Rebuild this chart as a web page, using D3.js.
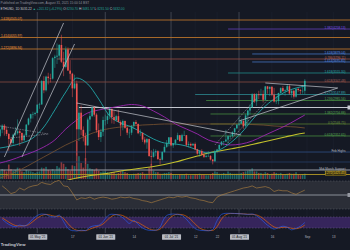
<!DOCTYPE html>
<html>
<head>
<meta charset="utf-8">
<script src="https://cdn.jsdelivr.net/npm/d3@7"></script>
<style>
  html, body { margin: 0; padding: 0; background: #151924; }
  svg { display: block; font-family: "Liberation Sans", Arial, sans-serif; }
</style>
</head>
<body>
<svg id="chart" width="350" height="250"></svg>
<script>
// ETHUSD daily, 14 Apr 2021 -> 31 Aug 2021
const firstDay = '2021-04-14';
const lastDay = '2021-08-31';

const open = [2300,2435,2516,2430,2345,2240,2160,2330,2360,2400,2365,2215,2315,2535,2660,2750,2755,
  2775,2945,2950,3430,3240,3520,3490,3480,3900,3930,3950,4170,3825,3720,4080,3645,3580,3280,3380,2440,2780,2430,2300,2110,2640,2710,2890,2740,2420,2280,2390,
  2630,2630,2710,2860,2690,2630,2710,2590,2520,2610,2470,2370,2370,2510,2590,2550,2360,2370,2230,2170,2240,1890,1875,1970,1990,1830,1815,1975,2080,2160,
  2275,2110,2150,2225,2320,2200,2320,2320,2120,2140,2110,2140,2030,1940,1995,1915,1875,1895,1895,1820,1785,1995,2025,2120,2185,2190,2230,2300,2300,2380,2460,
  2535,2555,2610,2505,2725,2825,2890,3160,3010,3160,3140,3165,3045,3320,3270,3310,3150,3010,3020,3185,3285,3225,3240,3325,3175,3230,3110,3270,3245,3225,3230];
const high = [2450,2545,2550,2500,2360,2280,2350,2490,2645,2435,2375,2350,2550,2680,2760,2800,2800,
  2950,2985,3450,3530,3540,3600,3580,3920,3970,4200,4190,4380,4030,4140,4120,3860,3600,3560,3440,2930,2930,2500,2370,2680,2780,2900,2910,2770,2560,2450,2700,
  2740,2790,2900,2860,2820,2740,2840,2620,2640,2620,2490,2450,2530,2600,2630,2560,2440,2370,2280,2260,2250,2010,2040,2030,2010,1860,1990,2130,2220,2280,
  2280,2160,2240,2370,2320,2350,2410,2320,2190,2170,2160,2170,2040,2010,2030,1960,1930,1990,1910,1830,2020,2040,2130,2200,2200,2430,2320,2340,2400,2470,2550,
  2700,2660,2630,2760,2840,2950,3180,3180,3180,3230,3270,3240,3330,3330,3320,3330,3290,3120,3190,3300,3330,3260,3370,3360,3250,3250,3280,3290,3270,3350,3470];
const low = [2270,2360,2310,2300,2000,2105,2120,2300,2330,2100,2160,2190,2310,2520,2580,2660,2720,
  2770,2860,2945,3180,3215,3360,3400,3460,3700,3780,3870,3800,3530,3690,3640,3460,3100,3260,1900,2200,2320,2190,1730,2100,2400,2690,2700,2370,2220,2180,2300,
  2520,2550,2650,2560,2550,2600,2580,2300,2420,2450,2320,2260,2320,2450,2530,2340,2300,2180,2130,2040,1880,1700,1860,1890,1810,1720,1800,1960,2060,2090,
  2090,2060,2110,2220,2180,2190,2310,2080,2070,2080,2100,2010,1920,1880,1900,1850,1860,1880,1800,1720,1770,1950,1990,2100,2110,2180,2150,2240,2280,2320,2440,
  2510,2550,2450,2480,2530,2740,2880,2980,2920,3060,3130,2990,3030,3170,3120,3120,2990,2960,2950,3160,3200,3130,3230,3150,3090,3070,3090,3210,3160,3170,3160];
const close = [2435,2516,2430,2345,2240,2160,2330,2360,2400,2365,2215,2315,2535,2660,2750,2755,2775,
  2945,2950,3430,3240,3520,3490,3480,3900,3930,3950,4170,3825,3720,4080,3645,3580,3280,3380,2440,2780,2430,2300,2110,2640,2710,2890,2740,2420,2280,2390,2630,
  2630,2710,2860,2690,2630,2710,2590,2520,2610,2470,2370,2370,2510,2590,2550,2360,2370,2230,2170,2240,1890,1875,1970,1990,1830,1815,1975,2080,2160,2275,
  2110,2150,2225,2320,2200,2320,2320,2120,2140,2110,2140,2030,1940,1995,1915,1875,1895,1895,1820,1785,1995,2025,2120,2185,2190,2230,2300,2300,2380,2460,2535,
  2555,2610,2505,2725,2825,2890,3160,3010,3160,3140,3165,3045,3320,3270,3310,3150,3010,3020,3185,3285,3225,3240,3325,3175,3230,3110,3270,3245,3225,3230,3435];
const volume = [22,26,24,20,38,26,22,24,30,28,20,18,24,22,20,18,16,
  18,20,30,28,32,24,22,26,22,34,30,45,40,32,26,22,36,34,100,60,42,30,55,40,28,26,24,28,22,18,20,
  20,18,16,16,18,14,16,20,22,18,16,12,12,14,14,16,16,18,14,14,30,40,22,18,18,14,14,16,16,18,
  16,12,10,10,12,12,12,14,10,10,10,12,12,14,12,12,10,10,12,16,20,18,14,14,16,14,20,16,14,14,14,
  14,16,18,20,22,24,28,20,20,16,16,14,18,16,12,14,18,16,14,16,12,12,14,16,14,14,18,12,10,12,14];

// moving averages, sampled every 5 days
const maDates = ['2021-04-14','2021-04-19','2021-04-24','2021-04-29','2021-05-04','2021-05-09','2021-05-14','2021-05-19',
  '2021-05-24','2021-05-29','2021-06-03','2021-06-08','2021-06-13','2021-06-18','2021-06-23','2021-06-28','2021-07-03',
  '2021-07-08','2021-07-13','2021-07-18','2021-07-23','2021-07-28','2021-08-02','2021-08-07','2021-08-12','2021-08-17',
  '2021-08-22','2021-08-27','2021-08-31'];
const ma20 = [2056,2097,2159,2262,2487,2836,3205,3492,3369,3062,2713,2569,2487,2364,2241,2159,2138,2097,2015,1954,2015,2159,2364,2631,2877,3062,3205,3287,3328];
const ma50 = [1749,1810,1892,1974,2077,2221,2446,2631,2774,2836,2877,2918,2949,2918,2815,2692,2549,2446,2344,2221,2159,2118,2138,2200,2303,2405,2508,2631,2733];
const ma100 = [1441,1523,1626,1749,1872,1995,2118,2221,2323,2405,2456,2487,2508,2528,2538,2549,2549,2549,2549,2549,2549,2549,2549,2538,2528,2508,2497,2487,2467];
const ma200 = [1031,1092,1154,1215,1277,1338,1390,1441,1482,1513,1544,1585,1615,1646,1677,1718,1769,1831,1892,1954,1995,2036,2077,2128,2180,2231,2282,2333,2364];

// oscillators, sampled every 2 days from 15 Apr
const oscStart = '2021-04-15';
const rsi = [63,58,52,54,60,57,61,63,64,68,66,65,69,71,63,62,53,43,46,45,47,44,46,47,46,44,45,47,46,47,
  45,44,42,41,39,41,43,45,47,46,48,47,48,46,45,43,42,40,39,47,50,52,54,56,58,60,61,63,60,61,62,60,55,57,56,56,53,51,54,57];
const stochK = [68,48,34,27,36,31,45,70,88,96,94,82,80,90,55,18,6,4,8,6,25,32,35,55,85,95,93,84,66,45,
  62,40,20,10,7,8,25,75,93,96,94,88,68,40,17,8,6,5,12,60,94,100,100,99,98,96,94,96,86,68,45,27,14,22,30,24,10,18,30,50];
const stochD = [75,60,45,34,31,32,38,55,74,88,94,90,84,84,72,44,20,8,5,6,14,23,31,42,64,84,93,91,82,66,
  56,50,36,22,11,8,14,38,68,88,95,93,84,66,42,20,10,6,7,28,68,92,99,99,98,97,95,94,91,80,62,42,26,20,24,24,18,16,22,36];

// horizontal levels (price, start date, label)
const levelPrices = [4682,4497,4323,4087,3985,3882,3821,3595,3410,3154,3031,2887,2754,2549,2303,1974,1769,1605,1513];
const levelStart = ['2021-04-01','2021-07-27','2021-04-01','2021-04-01','2021-08-07','2021-05-10','2021-08-07','2021-07-27',
  '2021-04-01','2021-07-12','2021-07-17','2021-05-20','2021-07-19','2021-07-19','2021-07-19','2021-04-01','2021-04-01','2021-04-01','2021-04-01'];
const levelLabels = ['1.618(4505.07)','1.382(4258.13)','1.414(4055.97)','1.272(3896.94)','1.618(3879.04)','0.786(3796.11)',
  '1.414(3695.85)','1.618(3555.30)','0.618(3347.48)','1.272(3147.89)','1.236(2985.56)','','1.382(2756.88)','0.5(2546.75)',
  '0.618(2352.65)','Feb Highs','','Mid-March Support','1.272(1425.45)'];

// trend lines drawn on the chart [date, price]
const trendSolid = [
  [['2021-04-16',1872],['2021-05-13',4621]],
  [['2021-04-24',1872],['2021-05-18',4190]],
  [['2021-05-19',2979],['2021-08-02',2323]],
  [['2021-08-13',3390],['2021-09-15',3287]],
  [['2021-08-01',2610],['2021-09-15',3287]]
];
const trendDashed = [
  [['2021-07-21',2118],['2021-08-09',3082]],
  [['2021-07-26',2118],['2021-08-14',3041]],
  [['2021-04-14',2508],['2021-05-06',2344]],
  [['2021-04-19',2262],['2021-05-06',2344]]
];

const tickDates = ['2021-05-01','2021-05-17','2021-06-01','2021-06-14','2021-07-01','2021-07-12','2021-07-22','2021-08-01','2021-08-16','2021-09-01','2021-09-13'];
const tickLabels = ["01 May '21",'17',"01 Jun '21",'14',"01 Jul '21",'12','22',"01 Aug '21",'16','Sep','13'];

// ---------------------------------------------------------------
const parse = d3.utcParse('%Y-%m-%d');
const svg = d3.select('#chart');

// level styles, same order as levelPrices
const levelStyle = [
  {c:'#b8732a', side:'left'}, {c:'#5a3aa8', side:'right'}, {c:'#b8732a', side:'left'}, {c:'#b8732a', side:'left'},
  {c:'#3d68ad', side:'right'}, {c:'#8a4a42', side:'right'}, {c:'#3d68ad', side:'right'}, {c:'#1f7d7d', side:'right'},
  {c:'#7a4640', side:'right'}, {c:'#2a7f86', side:'right'}, {c:'#3f7d3c', side:'right'}, {c:'#c4c7cf', side:'none', w:1.1},
  {c:'#3f7d3c', side:'right'}, {c:'#4f6e2e', side:'right'}, {c:'#3f7d3c', side:'right'}, {c:'#2c4a7c', side:'right', t:'#aeb1ba'},
  {c:'#243a60', side:'none'}, {c:'#9a9da6', side:'right', w:1.1, t:'#aeb1ba'}, {c:'#b39a25', side:'right', box:true}
];

const dates = d3.utcDay.range(parse(firstDay), d3.utcDay.offset(parse(lastDay), 1));
const bars = dates.map((d, i) => ({date: d, o: open[i], h: high[i], l: low[i], c: close[i], v: volume[i]}));
const oscDates = d3.utcDay.range(parse(oscStart), d3.utcDay.offset(parse(lastDay), 1), 2);

const x = d3.scaleUtc().domain([parse('2021-04-14'), parse('2021-09-01')]).range([0, 307]);
const y = d3.scaleLinear().domain([1000, 5000]).range([199.5, 4.5]);
const yVol = d3.scaleLinear().domain([0, 100]).range([179, 141]);
const yRsi = d3.scaleLinear().domain([30, 70]).range([209, 181]);
const yStoch = d3.scaleLinear().domain([0, 100]).range([231.7, 213.3]);

svg.append('rect').attr('width', 350).attr('height', 250).attr('fill', '#151924');

const defs = svg.append('defs');
defs.append('clipPath').attr('id', 'mainClip').append('rect').attr('x', 0).attr('y', 12).attr('width', 350).attr('height', 168);
defs.append('clipPath').attr('id', 'oscClip').append('rect').attr('x', 0).attr('y', 180).attr('width', 350).attr('height', 53);

// grid (faint) and the drawn month lines
const ticks = tickDates.map(parse);
svg.append('g').selectAll('line').data(ticks).enter().append('line')
  .attr('x1', d => x(d)).attr('x2', d => x(d)).attr('y1', 12).attr('y2', 233)
  .attr('stroke', (d, i) => tickLabels[i].length > 4 ? '#4a4e5a' : '#1f2330')
  .attr('stroke-width', (d, i) => tickLabels[i].length > 4 ? 0.8 : 0.6);

// RSI pane
const rsiG = svg.append('g');
rsiG.append('rect').attr('x', 0).attr('width', 350).attr('y', yRsi(70)).attr('height', yRsi(30) - yRsi(70)).attr('fill', '#2b2e37');
[70, 30].forEach(v => rsiG.append('line').attr('x1', 0).attr('x2', 350).attr('y1', yRsi(v)).attr('y2', yRsi(v))
  .attr('stroke', '#5d606b').attr('stroke-width', 0.5).attr('stroke-dasharray', '1.5,1.5'));
rsiG.append('line').attr('x1', 0).attr('x2', 350).attr('y1', yRsi(50)).attr('y2', yRsi(50))
  .attr('stroke', '#8a8d97').attr('stroke-width', 1.2);

// Stoch RSI pane
const stG = svg.append('g');
stG.append('rect').attr('x', 0).attr('width', 350).attr('y', yStoch(80)).attr('height', yStoch(20) - yStoch(80)).attr('fill', '#36255c');
[80, 20].forEach(v => stG.append('line').attr('x1', 0).attr('x2', 350).attr('y1', yStoch(v)).attr('y2', yStoch(v))
  .attr('stroke', '#6a5f86').attr('stroke-width', 0.5).attr('stroke-dasharray', '1.5,1.5'));

const main = svg.append('g').attr('clip-path', 'url(#mainClip)');

// volume
main.append('g').selectAll('rect').data(bars).enter().append('rect')
  .attr('x', d => x(d.date) - 0.8).attr('width', 1.6)
  .attr('y', d => yVol(d.v)).attr('height', d => yVol(0) - yVol(d.v))
  .attr('fill', d => d.c >= d.o ? 'rgba(38,166,154,0.55)' : 'rgba(239,83,80,0.55)');

// horizontal levels
const lv = levelPrices.map((p, i) => ({p, start: parse(levelStart[i]), label: levelLabels[i], s: levelStyle[i]}));
main.append('g').selectAll('line').data(lv).enter().append('line')
  .attr('x1', d => Math.max(0, x(d.start))).attr('x2', 350)
  .attr('y1', d => y(d.p)).attr('y2', d => y(d.p))
  .attr('stroke', d => d.s.c).attr('stroke-width', d => d.s.w || 0.9);

// moving averages
const maLine = d3.line().x(d => x(d[0])).y(d => y(d[1])).curve(d3.curveMonotoneX);
const maSets = [[ma100, '#7a5330', 0.8], [ma200, '#c3c02c', 1.1], [ma50, '#9c27b0', 0.9], [ma20, '#21a6a8', 0.9]];
maSets.forEach(([vals, col, w]) => {
  main.append('path').datum(maDates.map((d, i) => [parse(d), vals[i]]))
    .attr('d', maLine).attr('fill', 'none').attr('stroke', col).attr('stroke-width', w);
});

// candles
const cg = main.append('g');
cg.selectAll('line').data(bars).enter().append('line')
  .attr('x1', d => x(d.date)).attr('x2', d => x(d.date))
  .attr('y1', d => y(d.h)).attr('y2', d => y(d.l))
  .attr('stroke', d => d.c >= d.o ? '#26a69a' : '#ef5350').attr('stroke-width', 0.5);
cg.selectAll('rect').data(bars).enter().append('rect')
  .attr('x', d => x(d.date) - 0.8).attr('width', 1.6)
  .attr('y', d => y(Math.max(d.o, d.c)))
  .attr('height', d => Math.max(0.5, Math.abs(y(d.o) - y(d.c))))
  .attr('fill', d => d.c >= d.o ? '#26a69a' : '#ef5350');

// trend lines
const tl = d3.line().x(d => x(parse(d[0]))).y(d => y(d[1]));
trendSolid.forEach(t => main.append('path').attr('d', tl(t)).attr('fill', 'none')
  .attr('stroke', '#c4c7cf').attr('stroke-width', 0.7));
trendDashed.forEach(t => main.append('path').attr('d', tl(t)).attr('fill', 'none')
  .attr('stroke', '#aeb1ba').attr('stroke-width', 0.5).attr('stroke-dasharray', '1.5,1'));

// level labels
const lab = svg.append('g').attr('font-size', 3.1);
lv.filter(d => d.s.side !== 'none').forEach(d => {
  const yy = y(d.p) - 1.1;
  if (d.s.box) {
    lab.append('rect').attr('x', 325.5).attr('y', yy - 2.4).attr('width', 20.5).attr('height', 4.6)
      .attr('fill', '#3d3510').attr('stroke', '#b39a25').attr('stroke-width', 0.4);
  }
  lab.append('text')
    .attr('x', d.s.side === 'left' ? 1 : 345.5).attr('y', yy)
    .attr('dominant-baseline', 'central')
    .attr('text-anchor', d.s.side === 'left' ? 'start' : 'end')
    .attr('fill', d.s.t || (d.s.box ? '#e0c53a' : d3.color(d.s.c).brighter(0.9)))
    .text(d.label);
});

// right scale markers
[[y(2887), '#c9ccd4'], [yRsi(50), '#9598a1']].forEach(([yy, c]) =>
  svg.append('rect').attr('x', 347.5).attr('y', yy - 2).attr('width', 3).attr('height', 4).attr('fill', c));

// oscillator lines
const osc = svg.append('g').attr('clip-path', 'url(#oscClip)');
osc.append('path').datum(rsi).attr('fill', 'none').attr('stroke', '#b5853f').attr('stroke-width', 0.6)
  .attr('d', d3.line().x((d, i) => x(oscDates[i])).y(d => yRsi(d)));
osc.append('path').datum(stochD).attr('fill', 'none').attr('stroke', '#ff6d00').attr('stroke-width', 0.6)
  .attr('d', d3.line().x((d, i) => x(oscDates[i])).y(d => yStoch(d)).curve(d3.curveMonotoneX));
osc.append('path').datum(stochK).attr('fill', 'none').attr('stroke', '#2962ff').attr('stroke-width', 0.6)
  .attr('d', d3.line().x((d, i) => x(oscDates[i])).y(d => yStoch(d)).curve(d3.curveMonotoneX));

// time axis
const axis = svg.append('g').attr('transform', 'translate(0,237)')
  .call(d3.axisBottom(x).tickValues(ticks).tickSize(0).tickPadding(0)
    .tickFormat((d, i) => tickLabels[i]));
axis.select('.domain').remove();
axis.selectAll('text').attr('font-size', 3.2).attr('dy', 0).attr('y', 0)
  .attr('dominant-baseline', 'central').attr('fill', '#b2b5be').attr('font-family', '"Liberation Sans", Arial, sans-serif');
axis.selectAll('.tick').each(function (d, i) {
  if (tickLabels[i].length > 4) {
    const g = d3.select(this);
    g.insert('rect', 'text').attr('x', -9.5).attr('y', -2.8).attr('width', 19).attr('height', 5.6).attr('rx', 0.6)
      .attr('fill', '#b8bbc3');
    g.select('text').attr('fill', '#131722');
  }
});

// header
const hd = svg.append('g').attr('font-size', 3.2);
hd.append('text').attr('x', 0.5).attr('y', 3.4).attr('dominant-baseline', 'central').attr('fill', '#8f929b')
  .text('Published on TradingView.com, August 31, 2021 15:00:14 BST');
const t2 = hd.append('text').attr('x', 0.5).attr('y', 9.2).attr('dominant-baseline', 'central');
[['ETHUSD, 1D  3031.22 ', '#c9ccd4'], ['\u25B2 +201.32 (+6.29%) ', '#26a69a'],
 ['O:', '#c9ccd4'], ['3230.70 ', '#26a69a'], ['H:', '#c9ccd4'], ['3481.57 ', '#26a69a'],
 ['L:', '#c9ccd4'], ['3231.50 ', '#26a69a'], ['C:', '#c9ccd4'], ['3432.00', '#26a69a']]
  .forEach(([s, c]) => t2.append('tspan').attr('fill', c).text(s));

svg.append('text').attr('x', 0.8).attr('y', 244.5).attr('dominant-baseline', 'central')
  .attr('font-size', 4.2).attr('font-weight', 'bold').attr('fill', '#c9ccd4').text('TradingView');
</script>
</body>
</html>
